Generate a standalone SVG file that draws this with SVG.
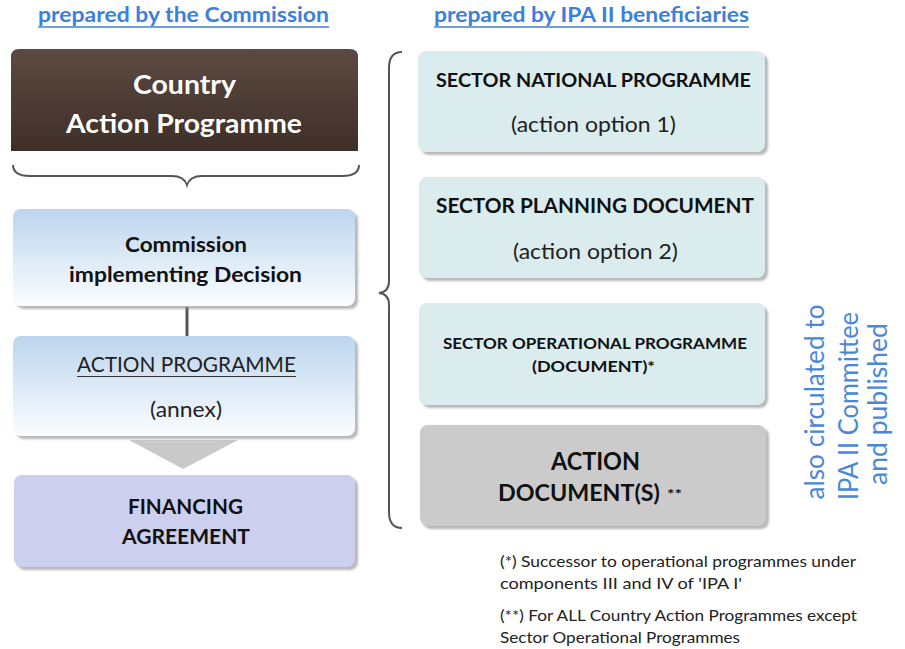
<svg xmlns="http://www.w3.org/2000/svg" width="905" height="649" viewBox="0 0 905 649">
<defs>
<style>
.hdr{font-family:Lato,"Liberation Sans",sans-serif;font-weight:bold;font-size:21px;fill:#3d7fd9}
.w{font-family:Lato,"Liberation Sans",sans-serif;font-weight:bold;font-size:26px;fill:#ffffff}
.b{font-family:Lato,"Liberation Sans",sans-serif;font-weight:bold;fill:#111111}
.r{font-family:Lato,"Liberation Sans",sans-serif;font-size:21px;fill:#222222}
.side{font-family:Lato,"Liberation Sans",sans-serif;font-size:26px;fill:#4a88d6}
.fn{font-family:Lato,"Liberation Sans",sans-serif;font-size:15px;fill:#222222}
.brace{stroke:#555555;stroke-width:2;fill:none}
.sh{filter:url(#shadow)}
</style>
<linearGradient id="brown" x1="0" y1="0" x2="0" y2="1">
<stop offset="0" stop-color="#5c4a42"/>
<stop offset="1" stop-color="#3e2f28"/>
</linearGradient>
<linearGradient id="blue" x1="0" y1="0" x2="0" y2="1">
<stop offset="0" stop-color="#bcd5ee"/>
<stop offset="1" stop-color="#fbfdff"/>
</linearGradient>
<filter id="shadow" x="-5%" y="-5%" width="115%" height="120%">
<feDropShadow dx="3" dy="3" stdDeviation="1.2" flood-color="#888888" flood-opacity="0.6"/>
</filter>
</defs>
<rect width="905" height="649" fill="#ffffff"/>

<g id="header-left">
<text class="hdr" x="38" y="22" textLength="291" lengthAdjust="spacingAndGlyphs">prepared by the Commission</text>
<line x1="38" y1="27" x2="329" y2="27" stroke="#3d7fd9" stroke-width="1.5"/>
</g>
<g id="header-right">
<text class="hdr" x="434" y="22" textLength="315" lengthAdjust="spacingAndGlyphs">prepared by IPA II beneficiaries</text>
<line x1="434" y1="27" x2="749" y2="27" stroke="#3d7fd9" stroke-width="1.5"/>
</g>

<g id="country-action-programme">
<path d="M11,151 L11,57 Q11,49 19,49 L350,49 Q358,49 358,57 L358,151 Z" fill="url(#brown)"/>
<text class="w" x="133" y="94" textLength="103" lengthAdjust="spacingAndGlyphs">Country</text>
<text class="w" x="66" y="133" textLength="236" lengthAdjust="spacingAndGlyphs">Action Programme</text>
</g>

<g id="connectors">
<path class="brace" d="M13,165 Q13,176 30,176 L172,176 Q184,176 187,185 Q190,176 202,176 L342,176 Q359,176 359,165"/>
<path class="brace" d="M402,52 Q389,52 389,68 L389,281 Q389,292 379,293 Q389,294 389,305 L389,512 Q389,528 402,528"/>
<line x1="187" y1="307" x2="187" y2="337" stroke="#555555" stroke-width="3"/>
<polygon points="129,440 238,440 183,469" fill="#c9c9c9"/>
</g>

<g id="commission-decision">
<rect class="sh" x="13" y="209" width="342" height="97" rx="8" fill="url(#blue)"/>
<text class="b" x="125" y="252" font-size="20" textLength="122" lengthAdjust="spacingAndGlyphs">Commission</text>
<text class="b" x="69" y="282" font-size="20" textLength="233" lengthAdjust="spacingAndGlyphs">implementing Decision</text>
</g>

<g id="action-programme">
<rect class="sh" x="13" y="336" width="342" height="100" rx="8" fill="url(#blue)"/>
<text class="r" x="77" y="372" textLength="219" lengthAdjust="spacingAndGlyphs">ACTION PROGRAMME</text>
<line x1="77" y1="376.5" x2="296" y2="376.5" stroke="#333333" stroke-width="1.2"/>
<text class="r" x="150" y="417" textLength="72" lengthAdjust="spacingAndGlyphs">(annex)</text>
</g>

<g id="financing-agreement">
<rect class="sh" x="14" y="475" width="341" height="92" rx="8" fill="#cdcfee"/>
<text class="b" x="128" y="514" font-size="20" textLength="115" lengthAdjust="spacingAndGlyphs">FINANCING</text>
<text class="b" x="122" y="544" font-size="20" textLength="128" lengthAdjust="spacingAndGlyphs">AGREEMENT</text>
</g>

<g id="sector-national-programme">
<rect class="sh" x="418" y="51" width="347" height="101" rx="8" fill="#daecee"/>
<text class="b" x="436" y="87" font-size="19" textLength="315" lengthAdjust="spacingAndGlyphs">SECTOR NATIONAL PROGRAMME</text>
<text class="r" x="511" y="132" textLength="165" lengthAdjust="spacingAndGlyphs">(action option 1)</text>
</g>

<g id="sector-planning-document">
<rect class="sh" x="419" y="177" width="346" height="101" rx="8" fill="#daecee"/>
<text class="b" x="436" y="213" font-size="20" textLength="318" lengthAdjust="spacingAndGlyphs">SECTOR PLANNING DOCUMENT</text>
<text class="r" x="513" y="259" textLength="165" lengthAdjust="spacingAndGlyphs">(action option 2)</text>
</g>

<g id="sector-operational-programme">
<rect class="sh" x="419" y="303" width="346" height="102" rx="8" fill="#daecee"/>
<text class="b" x="443" y="349" font-size="16" textLength="304" lengthAdjust="spacingAndGlyphs">SECTOR OPERATIONAL  PROGRAMME</text>
<text class="b" x="532" y="372" font-size="16" textLength="123" lengthAdjust="spacingAndGlyphs">(DOCUMENT)*</text>
</g>

<g id="action-documents">
<rect class="sh" x="420" y="425" width="346" height="101" rx="8" fill="#cbcbcb"/>
<text class="b" x="551" y="470" font-size="25" textLength="89" lengthAdjust="spacingAndGlyphs">ACTION</text>
<text class="b" x="498" y="501" font-size="23" textLength="162" lengthAdjust="spacingAndGlyphs">DOCUMENT(S)</text>
<text class="b" x="667" y="499" font-size="14" textLength="15" lengthAdjust="spacingAndGlyphs">**</text>
</g>

<g id="side-note">
<text class="side" transform="translate(824,402) rotate(-90)" text-anchor="middle" textLength="195" lengthAdjust="spacingAndGlyphs">also circulated to</text>
<text class="side" transform="translate(858,406) rotate(-90)" text-anchor="middle" textLength="188" lengthAdjust="spacingAndGlyphs">IPA II Committee</text>
<text class="side" transform="translate(887,404) rotate(-90)" text-anchor="middle" textLength="162" lengthAdjust="spacingAndGlyphs">and published</text>
</g>

<g id="footnotes">
<text class="fn" x="500" y="567" textLength="356" lengthAdjust="spacingAndGlyphs">(*) Successor to operational programmes under</text>
<text class="fn" x="500" y="589" textLength="242" lengthAdjust="spacingAndGlyphs">components III and IV of 'IPA I'</text>
<text class="fn" x="500" y="621" textLength="357" lengthAdjust="spacingAndGlyphs">(**) For ALL Country Action Programmes except</text>
<text class="fn" x="500" y="643" textLength="240" lengthAdjust="spacingAndGlyphs">Sector Operational Programmes</text>
</g>
</svg>
